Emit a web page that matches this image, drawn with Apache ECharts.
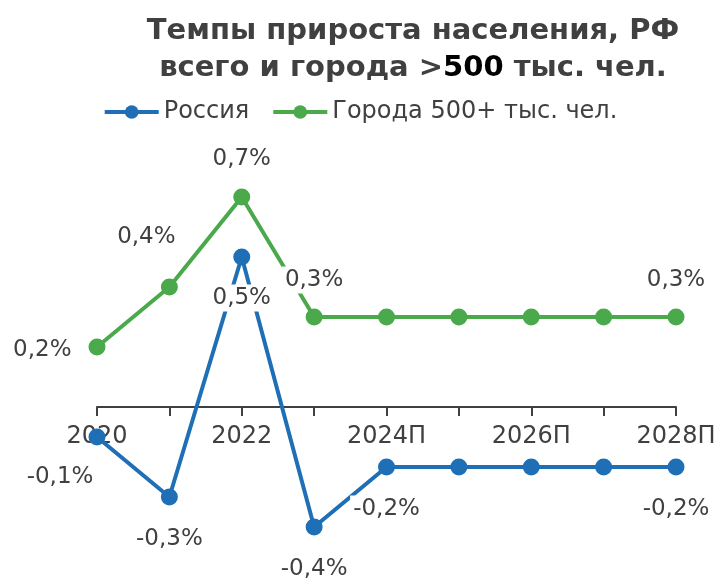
<!DOCTYPE html>
<html lang="ru">
<head>
<meta charset="utf-8">
<title>Темпы прироста населения</title>
<script src="https://cdn.jsdelivr.net/npm/echarts@6/dist/echarts.min.js"></script>
</head>
<body style="margin:0;background:#fff">
<div id="echart" style="width:720px;height:579px;"></div>
<script>
const years = ['2020', '2021', '2022', '2023', '2024П', '2025П', '2026П', '2027П', '2028П'];
const russia = [-0.1, -0.3, 0.5, -0.4, -0.2, -0.2, -0.2, -0.2, -0.2];
const cities = [0.2, 0.4, 0.7, 0.3, 0.3, 0.3, 0.3, 0.3, 0.3];

const FONT = 'DejaVu Sans';
const TXT = '#404040';
const BLUE = '#1f6fb6';
const GREEN = '#4aa94b';

// which points get labels and where
const russiaLabels = {
    0: { position: 'bottom', offset: [-37, 4] },
    1: { position: 'bottom', offset: [0, 6] },
    2: { position: 'bottom', offset: [0, 5] },
    3: { position: 'bottom', offset: [0, 6] },
    4: { position: 'bottom', offset: [0, 6] },
    8: { position: 'bottom', offset: [0, 6] }
};
const cityLabels = {
    0: { position: 'left', offset: [0, 3] },
    1: { position: 'top', offset: [-23, -14] },
    2: { position: 'top', offset: [0, -2] },
    3: { position: 'top', offset: [0, -1] },
    8: { position: 'top', offset: [0, -1] }
};

function fmt(v) {
    return v.toFixed(1).replace('.', ',') + '%';
}

function buildData(values, labels) {
    return values.map((v, i) => {
        let lb = labels[i];
        if (!lb) return { value: v, label: { show: false } };
        return { value: v, label: Object.assign({ show: true }, lb) };
    });
}

const baseLabel = {
    show: true,
    formatter: p => fmt(p.value),
    color: TXT,
    fontFamily: FONT,
    fontSize: 23,
    distance: 14,
    backgroundColor: '#fff',
    padding: [2, 3]
};

let myChart = echarts.init(document.getElementById('echart'));
let option = {
    animation: false,
    title: {
        text: '{a|Темпы прироста населения, РФ}\n{a|всего и города }{c|>}{b|500}{a| тыс. чел.}',
        left: 408,
        textAlign: 'center',
        top: 8,
        textStyle: {
            rich: {
                a: { fontFamily: FONT, fontSize: 29, fontWeight: 'bold', color: TXT, lineHeight: 37 },
                b: { fontFamily: FONT, fontSize: 29, fontWeight: 'bold', color: '#000', lineHeight: 37 },
                c: { fontFamily: FONT, fontSize: 29, color: TXT, lineHeight: 37 }
            }
        }
    },
    legend: {
        top: 95,
        left: 'center',
        itemWidth: 54,
        itemHeight: 17,
        itemGap: 22,
        lineStyle: { width: 4 },
        textStyle: { fontFamily: FONT, fontSize: 24, color: TXT },
        data: ['Россия', 'Города 500+ тыс. чел.']
    },
    grid: { left: 97, right: 44, top: 197, bottom: 52 },
    xAxis: {
        type: 'category',
        data: years,
        boundaryGap: false,
        offset: -120,
        axisLine: { onZero: false, lineStyle: { color: TXT, width: 2 } },
        axisTick: { show: true, length: 9, lineStyle: { color: TXT, width: 2 }, interval: 0 },
        axisLabel: { interval: 1, color: TXT, fontFamily: FONT, fontSize: 24, margin: 18 }
    },
    yAxis: {
        type: 'value',
        min: -0.4,
        max: 0.7,
        show: false,
        splitLine: { show: false }
    },
    series: [
        {
            name: 'Россия',
            type: 'line',
            data: buildData(russia, russiaLabels),
            color: BLUE,
            symbol: 'circle',
            symbolSize: 17,
            lineStyle: { width: 4 },
            label: baseLabel
        },
        {
            name: 'Города 500+ тыс. чел.',
            type: 'line',
            data: buildData(cities, cityLabels),
            color: GREEN,
            symbol: 'circle',
            symbolSize: 17,
            lineStyle: { width: 4 },
            label: baseLabel
        }
    ]
};
myChart.setOption(option);
</script>
</body>
</html>
